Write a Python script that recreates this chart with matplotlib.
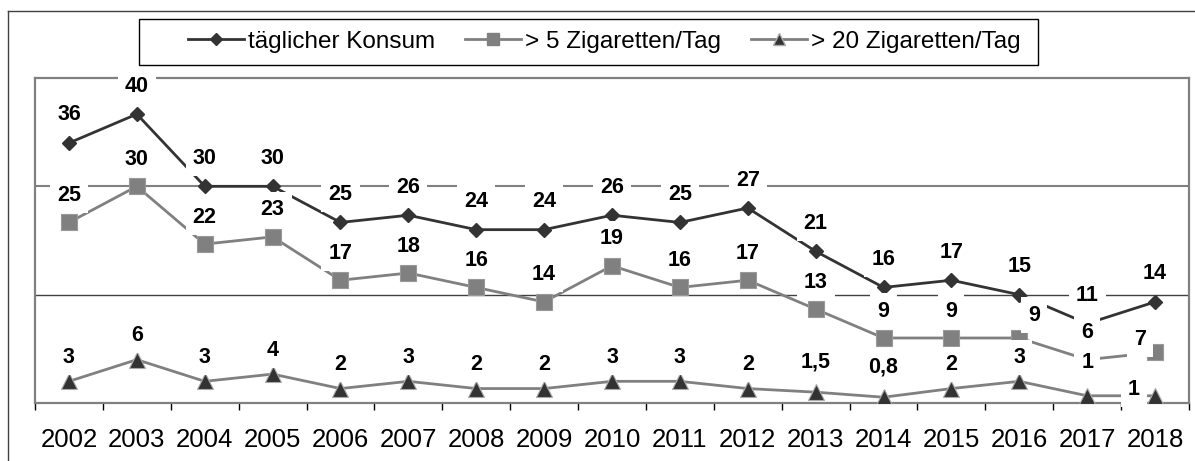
import matplotlib
matplotlib.use('Agg')
import matplotlib.pyplot as plt
from matplotlib.patches import Rectangle
from matplotlib.lines import Line2D

plt.rcParams['font.family'] = ['Liberation Sans', 'DejaVu Sans']

years = ['2002', '2003', '2004', '2005', '2006', '2007', '2008', '2009', '2010',
         '2011', '2012', '2013', '2014', '2015', '2016', '2017', '2018']
daily = [36, 40, 30, 30, 25, 26, 24, 24, 26, 25, 27, 21, 16, 17, 15, 11, 14]
over5 = [25, 30, 22, 23, 17, 18, 16, 14, 19, 16, 17, 13, 9, 9, 9, 6, 7]
over20 = [3, 6, 3, 4, 2, 3, 2, 2, 3, 3, 2, 1.5, 0.8, 2, 3, 1, 1]
names = ['täglicher Konsum', '> 5 Zigaretten/Tag', '> 20 Zigaretten/Tag']

dark = '#333333'
gray = '#808080'

# label placement: default pixel offset above the point per series, plus a few manual nudges
base_off = [28, 27, 24]
nudge = {(1, 14): (15, -4), (1, 16): (-15, -14),
         (2, 11): (0, 6), (2, 12): (0, 6), (2, 15): (0, 9), (2, 16): (-21, -18)}

fig = plt.figure(figsize=(11.95, 4.61), dpi=100)
ax = fig.add_axes([35 / 1195, 1 - 403 / 461, (1189 - 35) / 1195, (403 - 78) / 461])

x = list(range(len(years)))
l1, = ax.plot(x, daily, color=dark, lw=2, marker='D', ms=7.5, mfc=dark, mec=dark, zorder=4)
l2, = ax.plot(x, over5, color=gray, lw=2, marker='s', ms=12, mfc=gray, mec='#999999', mew=0.8, zorder=3)
l3, = ax.plot(x, over20, color=gray, lw=2, marker='^', ms=11, mfc=dark, mec='#aaaaaa', mew=0.8, zorder=3)

ax.axhline(15, color='#404040', lw=1, zorder=1)
ax.axhline(30, color=gray, lw=1.5, zorder=1)

def fmt(v):
    if v == int(v):
        return str(int(v))
    return str(v).replace('.', ',')

for s, vals in enumerate([daily, over5, over20]):
    for i, v in enumerate(vals):
        dx, dy = nudge.get((s, i), (0, 0))
        ax.annotate(fmt(v), (i, v), xytext=(dx, base_off[s] + dy), textcoords='offset pixels',
                    ha='center', va='center', fontsize=15.5, fontweight='bold',
                    bbox=dict(boxstyle='square,pad=0.33', fc='white', ec='none'),
                    zorder=10, annotation_clip=False)

ax.set_xlim(-0.5, len(years) - 0.5)
ax.set_ylim(0, 45)
ax.set_yticks([])
ax.set_xticks(x)
ax.set_xticklabels(years, fontsize=18.5)
ax.set_xticks([i - 0.5 for i in range(len(years) + 1)], minor=True)
ax.tick_params(axis='x', which='major', length=0, pad=18)
ax.tick_params(axis='x', which='minor', length=5, width=1, color='black', direction='out')
for sp in ax.spines.values():
    sp.set_color(gray)
    sp.set_linewidth(1.6)

# outer chart frame (cut off at right and bottom)
fig.add_artist(Line2D([8 / 1195, 1], [1 - 11 / 461, 1 - 11 / 461], color='#404040', lw=1))
fig.add_artist(Line2D([8 / 1195, 8 / 1195], [0, 1 - 11 / 461], color='#404040', lw=1))

# legend box
fig.add_artist(Rectangle((139 / 1195, 1 - 65 / 461), (1038 - 139) / 1195, 46 / 461,
                         transform=fig.transFigure, fill=False, ec='black', lw=1))
h1 = Line2D([], [], color=dark, lw=2, marker='D', ms=6, mfc=dark, mec=dark)
h2 = Line2D([], [], color=gray, lw=2, marker='s', ms=8.5, mfc=gray, mec=gray)
h3 = Line2D([], [], color=gray, lw=2, marker='^', ms=8, mfc=dark, mec='#aaaaaa')
fig.legend([h1, h2, h3], names, loc='center left', bbox_to_anchor=(188 / 1195, 1 - 42 / 461),
           bbox_transform=fig.transFigure, ncol=3, frameon=False, fontsize=17.5,
           handlelength=2.3, handletextpad=0.15, columnspacing=1.25, borderpad=0, borderaxespad=0)

fig.savefig('out.png', dpi=100)
